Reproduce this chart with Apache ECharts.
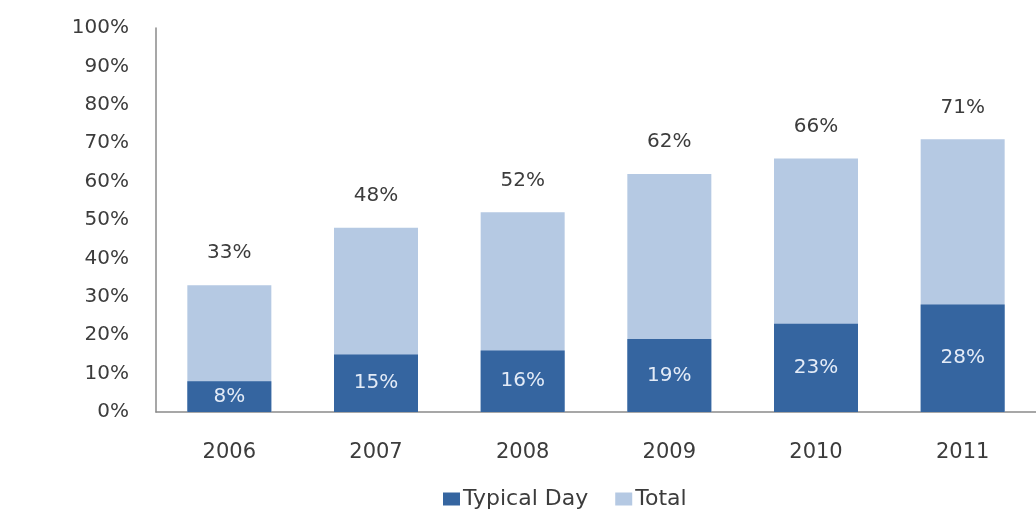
<!DOCTYPE html>
<html><head><meta charset="utf-8">
<script src="https://cdn.jsdelivr.net/npm/echarts@6/dist/echarts.min.js"></script>
<style>html,body{margin:0;padding:0;background:#fff}#c{width:1036px;height:512px}</style>
</head><body><div id="c"></div>
<script>
const categories = ['2006','2007','2008','2009','2010','2011'];
const typicalDay = [8, 15, 16, 19, 23, 28];
const total = [33, 48, 52, 62, 66, 71];
const yTicks = [0,10,20,30,40,50,60,70,80,90,100];

const font = '"DejaVu Sans", sans-serif';
const txt = '#3c3c3c';
const chart = echarts.init(document.getElementById('c'));
chart.setOption({
  backgroundColor: '#ffffff',
  animation: false,
  textStyle: {fontFamily: font},
  legend: {
    data: ['Typical Day', 'Total'],
    top: 488, left: 443, padding: 0,
    icon: 'rect', itemWidth: 17, itemHeight: 13, itemGap: 27,
    textStyle: {fontSize: 22, color: txt, fontFamily: font, padding: [0, 0, 0, -2]}
  },
  grid: {left: 156, top: 28, width: 888, height: 384, containLabel: false},
  xAxis: {
    type: 'category', data: categories,
    axisLine: {show: true, lineStyle: {color: '#8a8a8a', width: 1.5}},
    axisTick: {show: false},
    axisLabel: {color: txt, fontSize: 21, margin: 30, fontFamily: font}
  },
  yAxis: {
    type: 'value', min: 0, max: 100, interval: 10,
    axisLine: {show: true, lineStyle: {color: '#8a8a8a', width: 1.5}},
    axisTick: {show: false},
    splitLine: {show: false},
    axisLabel: {color: txt, fontSize: 20, margin: 27, fontFamily: font,
      formatter: v => yTicks.includes(v) ? v + '%' : ''}
  },
  series: [
    {
      name: 'Typical Day', type: 'bar', data: typicalDay, barWidth: 84, z: 3,
      itemStyle: {color: '#3565a0'},
      label: {show: true, position: 'inside', color: '#e3ebf7', fontSize: 20, fontFamily: font, formatter: '{c}%'}
    },
    {
      name: 'Total', type: 'bar', data: total, barWidth: 84, barGap: '-100%', z: 2,
      itemStyle: {color: '#b5c9e3'},
      label: {show: true, position: 'top', distance: 22, color: txt, fontSize: 20, fontFamily: font, formatter: '{c}%'}
    }
  ]
});
</script></body></html>
